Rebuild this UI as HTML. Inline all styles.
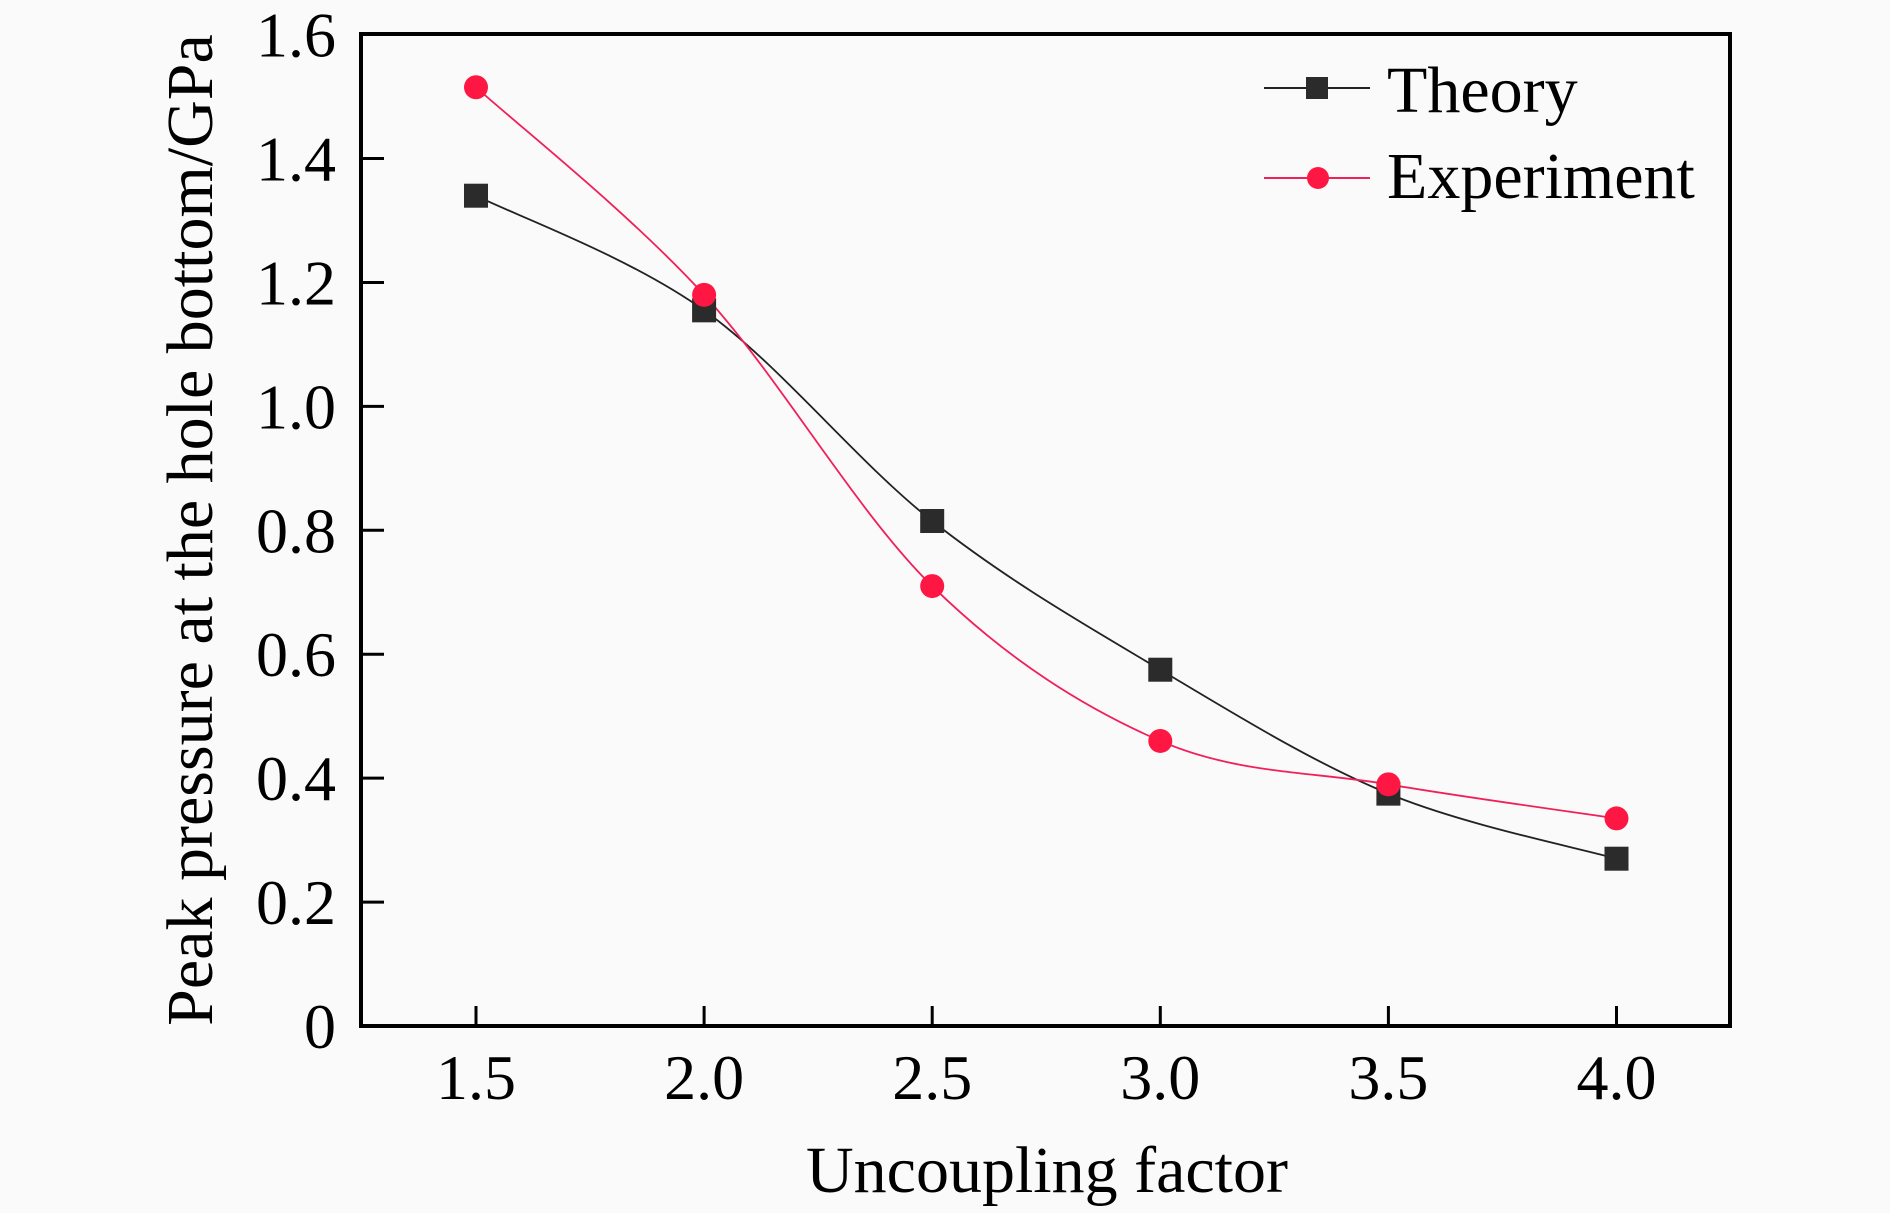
<!DOCTYPE html>
<html><head><meta charset="utf-8"><style>
html,body{margin:0;padding:0;background:#fafafa;}
svg{display:block;font-family:"Liberation Serif",serif;}
</style></head><body>
<svg id="chart" width="1890" height="1213" viewBox="0 0 1890 1213">
<rect x="0" y="0" width="1890" height="1213" fill="#fafafa"/>
<g id="grid"></g>
<g id="series"></g>
<rect x="361" y="34" width="1369" height="992" fill="none" stroke="#000" stroke-width="4"/>
<text x="1047" y="1192" font-size="66" text-anchor="middle">Uncoupling factor</text>
<text transform="translate(212,530) rotate(-90)" font-size="66" text-anchor="middle">Peak pressure at the hole bottom/GPa</text>
<g>
<line x1="1264" y1="88" x2="1370" y2="88" stroke="#222" stroke-width="2"/>
<rect x="1306" y="77" width="22" height="22" fill="#2b2b2b"/>
<text x="1387" y="112" font-size="66">Theory</text>
<line x1="1264" y1="178" x2="1370" y2="178" stroke="#f0205a" stroke-width="2"/>
<circle cx="1318" cy="178" r="11" fill="#ff1744"/>
<text x="1387" y="198" font-size="66">Experiment</text>
</g>
</svg>
<script>
const categories = [1.5, 2.0, 2.5, 3.0, 3.5, 4.0];
const xTickLabels = ["1.5","2.0","2.5","3.0","3.5","4.0"];
const yTicks = [0,0.2,0.4,0.6,0.8,1.0,1.2,1.4,1.6];
const yTickLabels = ["0","0.2","0.4","0.6","0.8","1.0","1.2","1.4","1.6"];
const theory = [1.34, 1.155, 0.815, 0.575, 0.375, 0.27];
const experiment = [1.515, 1.18, 0.71, 0.46, 0.39, 0.335];

const NS="http://www.w3.org/2000/svg";
function xs(v){return 476+(v-1.5)*(1616.5-476)/2.5;}
function ys(v){return 1026-v*(1026-34.6)/1.6;}
const grid=document.getElementById('grid');
const ser=document.getElementById('series');
function mk(t,a,p){const e=document.createElementNS(NS,t);for(const k in a)e.setAttribute(k,a[k]);p.appendChild(e);return e;}
categories.forEach((c,i)=>{
  const t=mk('line',{x1:xs(c),x2:xs(c),y1:1026,y2:1006,stroke:'#000','stroke-width':3},grid);
  
  
  const l=mk('text',{x:xs(c),y:1099,'font-size':64,'text-anchor':'middle'},grid);
  l.textContent=xTickLabels[i];
  
  
});
yTicks.forEach((v,i)=>{
  if(v>0&&v<1.6){
    const t=mk('line',{x1:361,x2:384,y1:ys(v),y2:ys(v),stroke:'#000','stroke-width':3},grid);
    
    
  }
  const l=mk('text',{x:336,y:ys(v)+22,'font-size':64,'text-anchor':'end'},grid);
  l.textContent=yTickLabels[i];
  
  
});
function path(vals){
  const p=categories.map((c,i)=>[xs(c),ys(vals[i])]);
  let d='M'+p[0][0]+','+p[0][1];
  for(let i=0;i<p.length-1;i++){
    const p0=p[i-1]||p[i],p1=p[i],p2=p[i+1],p3=p[i+2]||p2;
    const c1=[p1[0]+(p2[0]-p0[0])/6,p1[1]+(p2[1]-p0[1])/6];
    const c2=[p2[0]-(p3[0]-p1[0])/6,p2[1]-(p3[1]-p1[1])/6];
    d+=' C'+c1+' '+c2+' '+p2;
  }
  return d;
}
const lt=mk('path',{d:path(theory),fill:'none',stroke:'#222','stroke-width':1.8},ser);


const le=mk('path',{d:path(experiment),fill:'none',stroke:'#f0205a','stroke-width':1.8},ser);


categories.forEach((c,i)=>{
  const r=mk('rect',{x:xs(c)-12,y:ys(theory[i])-12,width:24,height:24,fill:'#2b2b2b'},ser);
  
  
});
categories.forEach((c,i)=>{
  const r=mk('circle',{cx:xs(c),cy:ys(experiment[i]),r:12,fill:'#ff1744'},ser);
  
  
});
</script>
</body></html>
